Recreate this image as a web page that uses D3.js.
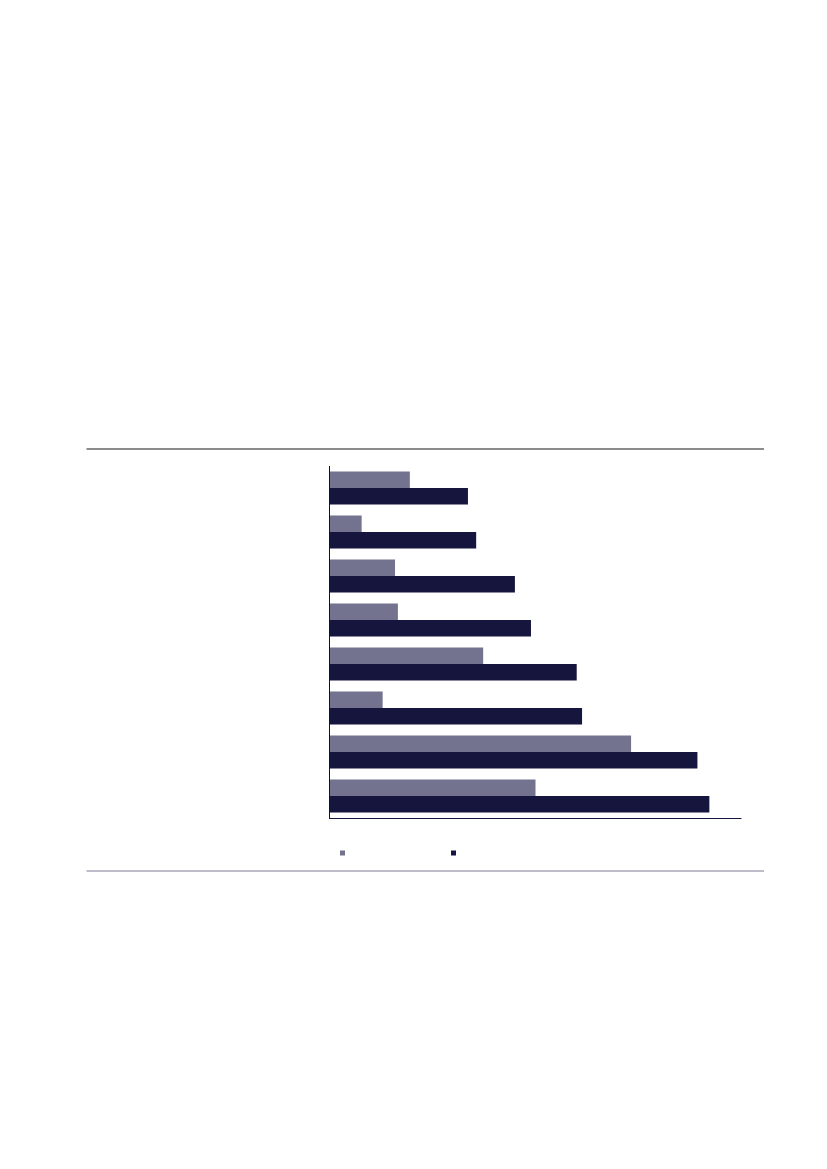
<!DOCTYPE html>
<html>
<head>
<meta charset="utf-8">
<script src="https://cdn.jsdelivr.net/npm/d3@7"></script>
<style>
  html, body { margin: 0; padding: 0; background: #fff; }
  svg { display: block; }
</style>
</head>
<body>
<svg id="chart" width="827" height="1169"></svg>
<script>
// Data (no labels are printed in the reference, so categories are placeholders)
const categories = ["c1", "c2", "c3", "c4", "c5", "c6", "c7", "c8"];
const seriesNames = ["s1", "s2"];
const seriesA = [19.5, 7.8, 15.9, 16.6, 37.3, 12.9, 73.2, 50.0];
const seriesB = [33.6, 35.6, 45.0, 48.9, 60.0, 61.3, 89.3, 92.2];
const colors = ["#737390", "#15153d"];

const svg = d3.select("#chart");

// Frame rules
svg.append("line")
  .attr("x1", 86.5).attr("x2", 764).attr("y1", 449).attr("y2", 449)
  .attr("stroke", "#666").attr("stroke-width", 1.5);
svg.append("line")
  .attr("x1", 86.5).attr("x2", 764).attr("y1", 871).attr("y2", 871)
  .attr("stroke", "#a8a6b8").attr("stroke-width", 1.5);

const x = d3.scaleLinear().domain([0, 100]).range([329.5, 741.5]);
const y0 = d3.scaleBand().domain(categories).range([466, 818])
  .paddingInner(0.25).paddingOuter(0.125);
const y1 = d3.scaleBand().domain(seriesNames).range([0, y0.bandwidth()]);

const rows = categories.map((c, i) => ({ cat: c, vals: [seriesA[i], seriesB[i]] }));

const group = svg.append("g").selectAll("g")
  .data(rows)
  .enter()
  .append("g")
  .attr("transform", d => `translate(0,${y0(d.cat)})`);

group.selectAll("rect")
  .data(d => d.vals.map((v, j) => ({ key: seriesNames[j], v, j })))
  .enter()
  .append("rect")
  .attr("x", x(0))
  .attr("y", d => y1(d.key))
  .attr("width", d => x(d.v) - x(0))
  .attr("height", y1.bandwidth())
  .attr("fill", d => colors[d.j]);

// Axes (lines only, no ticks)
svg.append("line")
  .attr("x1", 329.5).attr("x2", 329.5).attr("y1", 466).attr("y2", 818.5)
  .attr("stroke", "#111122").attr("stroke-width", 1);
svg.append("line")
  .attr("x1", 329).attr("x2", 741.5).attr("y1", 818.5).attr("y2", 818.5)
  .attr("stroke", "#15153d").attr("stroke-width", 1);

// Legend markers
const legendX = [340, 451];
svg.append("g").selectAll("rect")
  .data(seriesNames)
  .enter()
  .append("rect")
  .attr("x", (d, i) => legendX[i])
  .attr("y", 850.5)
  .attr("width", 5)
  .attr("height", 5)
  .attr("fill", (d, i) => colors[i]);
</script>
</body>
</html>
